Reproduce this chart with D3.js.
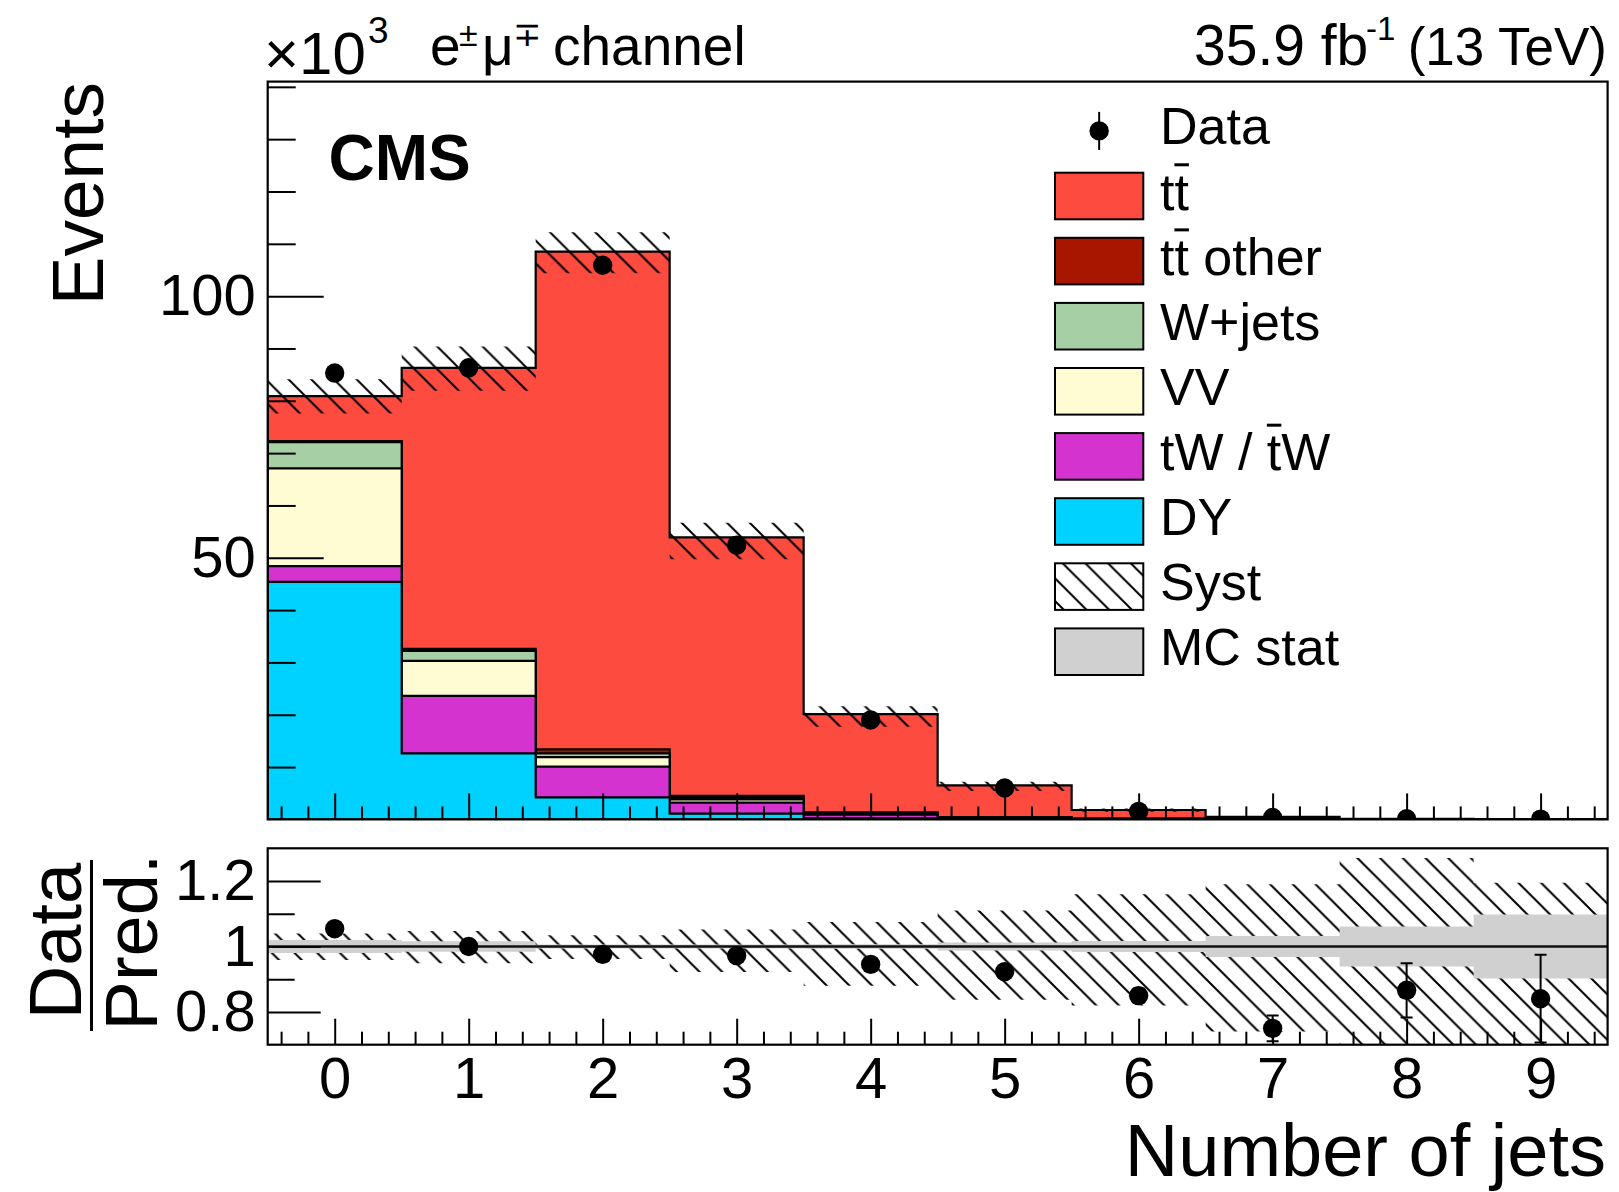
<!DOCTYPE html>
<html>
<head>
<meta charset="utf-8">
<script src="https://cdn.jsdelivr.net/npm/d3@7"></script>
<style>
  body { margin: 0; background: #fff; }
  text { font-family: "Liberation Sans", Arial, Helvetica, sans-serif; fill: #000; }
</style>
</head>
<body>
<svg id="chart" width="1619" height="1192"></svg>
<script>
// ---------------- DATA (events in units of 10^3) ----------------
const categories   = [0, 1, 2, 3, 4, 5, 6, 7, 8, 9];
const xTickLabels  = ["0", "1", "2", "3", "4", "5", "6", "7", "8", "9"];
const dyVals       = [45.4, 12.6, 4.2, 1.1, 0.20, 0.06, 0.020, 0.005, 0.001, 0.0005];
const twVals       = [3.0, 11.0, 5.9, 2.1, 0.70, 0.22, 0.060, 0.015, 0.004, 0.0010];
const vvVals       = [18.7, 6.7, 1.8, 0.6, 0.15, 0.04, 0.010, 0.004, 0.001, 0.0005];
const wjetsVals    = [5.0, 1.9, 0.7, 0.25, 0.05, 0.02, 0.010, 0.002, 0.001, 0.0005];
const ttOtherVals  = [0.2, 0.4, 0.8, 0.45, 0.25, 0.10, 0.040, 0.014, 0.004, 0.0015];
const ttVals       = [8.6, 53.7, 95.1, 49.4, 18.75, 6.06, 1.66, 0.44, 0.116, 0.043];
const dataVals     = [85.3, 86.3, 105.9, 52.4, 19.0, 6.0, 1.53, 0.36, 0.110, 0.0395];
const dataErr      = [0.29, 0.29, 0.33, 0.23, 0.14, 0.078, 0.039, 0.019, 0.0105, 0.0063];
// relative uncertainties
const systUp       = [0.040, 0.047, 0.034, 0.052, 0.075, 0.11, 0.16, 0.19, 0.27, 0.195];
const systDown     = [0.041, 0.051, 0.038, 0.078, 0.12, 0.163, 0.18, 0.26, 0.32, 0.32];
const mcStat       = [0.020, 0.016, 0.006, 0.006, 0.007, 0.012, 0.017, 0.032, 0.061, 0.098];
// axis ticks
const mainYTicks   = [50, 100];
const mainYLabels  = ["50", "100"];
const mainYMinor   = [10, 20, 30, 40, 60, 70, 80, 90, 110, 120, 130, 140];
const ratioYTicks  = [0.8, 1, 1.2];
const ratioYLabels = ["0.8", "1", "1.2"];
const ratioYMinor  = [0.9, 1.1];
// legend (t\u0304 = t-bar)
const legendLabels = ["Data", "tt\u0304", "tt\u0304 other", "W+jets", "VV", "tW / t\u0304W", "DY", "Syst", "MC stat"];
const seriesKeys   = ["DY", "tW", "VV", "Wjets", "ttOther", "tt"];
const seriesColors = { DY: "#00d2ff", tW: "#d433d0", VV: "#fffcd4", Wjets: "#a6cfa6", ttOther: "#a81600", tt: "#fd4b40" };
const legendKeys   = ["data", "tt", "ttOther", "Wjets", "VV", "tW", "DY", "syst", "mcstat"];

// ---------------- LAYOUT ----------------
const L = 267.7, R = 1607.6;
const mainTop = 81.6, mainBot = 819.4;
const ratTop = 848.3, ratBot = 1044.7;
const FONT = "\"Liberation Sans\", Arial, Helvetica, sans-serif";

const svg = d3.select("#chart");
const x  = d3.scaleLinear().domain([-0.5, 9.5]).range([L, R]);
const y  = d3.scaleLinear().domain([0, 141]).range([mainBot, mainTop]);
const yr = d3.scaleLinear().domain([0.7, 1.3]).range([ratBot, ratTop]);

const defs = svg.append("defs");
const hs = 22.7;
const pat = defs.append("pattern").attr("id", "hatch")
  .attr("patternUnits", "userSpaceOnUse").attr("width", hs).attr("height", hs);
pat.append("path")
  .attr("d", `M0,0L${hs},${hs}M-2,${hs - 2}L2,${hs + 2}M${hs - 2},-2L${hs + 2},2`)
  .attr("stroke", "#000").attr("stroke-width", 2).attr("fill", "none");
defs.append("clipPath").attr("id", "clipMain").append("rect")
  .attr("x", L).attr("y", mainTop).attr("width", R - L).attr("height", mainBot - mainTop);
defs.append("clipPath").attr("id", "clipRat").append("rect")
  .attr("x", L).attr("y", ratTop).attr("width", R - L).attr("height", ratBot - ratTop);

// table for stack
const table = categories.map((c, i) => ({
  jets: c, DY: dyVals[i], tW: twVals[i], VV: vvVals[i], Wjets: wjetsVals[i], ttOther: ttOtherVals[i], tt: ttVals[i]
}));
const stacked = d3.stack().keys(seriesKeys)(table);
const totals = categories.map((c, i) => stacked[stacked.length - 1][i][1]);

function stepPoints(vals) {
  const pts = vals.map((v, i) => ({ x: categories[i] - 0.5, v }));
  pts.push({ x: categories[categories.length - 1] + 0.5, v: vals[vals.length - 1] });
  return pts;
}

// ---------------- MAIN PAD ----------------
const gMain = svg.append("g").attr("clip-path", "url(#clipMain)");
const stepArea = d3.area().curve(d3.curveStepAfter)
  .x(d => x(d.x)).y0(y(0)).y1(d => y(d.v));

// ROOT style: cumulative histograms, largest first
stacked.slice().reverse().forEach(s => {
  gMain.append("path")
    .attr("d", stepArea(stepPoints(s.map(d => d[1]))))
    .attr("fill", seriesColors[s.key])
    .attr("stroke", "#000").attr("stroke-width", 2.2).attr("stroke-linejoin", "miter");
});

// syst band
const bandArea = d3.area().curve(d3.curveStepAfter)
  .x(d => x(d.x)).y0(d => d.lo).y1(d => d.hi);
function bandPts(loF, hiF) {
  const pts = categories.map((c, i) => ({ x: c - 0.5, lo: loF(i), hi: hiF(i) }));
  const n = categories.length - 1;
  pts.push({ x: categories[n] + 0.5, lo: loF(n), hi: hiF(n) });
  return pts;
}
gMain.append("path")
  .attr("d", bandArea(bandPts(i => y(totals[i] * (1 - systDown[i])), i => y(totals[i] * (1 + systUp[i])))))
  .attr("fill", "url(#hatch)").attr("stroke", "none");

// data
const gData = svg.append("g").attr("clip-path", "url(#clipMain)");
categories.forEach((c, i) => {
  gData.append("line").attr("x1", x(c)).attr("x2", x(c))
    .attr("y1", y(dataVals[i] - dataErr[i])).attr("y2", y(dataVals[i] + dataErr[i]))
    .attr("stroke", "#000").attr("stroke-width", 2);
  gData.append("circle").attr("cx", x(c)).attr("cy", y(dataVals[i])).attr("r", 9.7).attr("fill", "#000");
});

// axes main
function styleAxis(g, fs) {
  g.select(".domain").remove();
  g.selectAll(".tick line").attr("stroke", "#000").attr("stroke-width", 2);
  g.selectAll(".tick text").attr("font-size", fs).attr("font-family", FONT).attr("fill", "#000");
  g.attr("font-family", FONT);
}
const minorX = d3.range(-2, 48).map(k => k * 0.2).filter(v => Math.abs(v - Math.round(v)) > 1e-6);

svg.append("g").attr("transform", `translate(0,${mainBot})`)
  .call(d3.axisBottom(x).tickValues(categories).tickSize(-26).tickFormat(""))
  .call(g => styleAxis(g, 58));
svg.append("g").attr("transform", `translate(0,${mainBot})`)
  .call(d3.axisBottom(x).tickValues(minorX).tickSize(-13).tickFormat(""))
  .call(g => styleAxis(g, 58));
svg.append("g").attr("transform", `translate(${L},0)`)
  .call(d3.axisLeft(y).tickValues(mainYTicks).tickSize(-56).tickPadding(12).tickFormat((d, i) => mainYLabels[i]))
  .call(g => styleAxis(g, 58));
svg.append("g").attr("transform", `translate(${L},0)`)
  .call(d3.axisLeft(y).tickValues(mainYMinor).tickSize(-28).tickFormat(""))
  .call(g => styleAxis(g, 58));

svg.append("rect").attr("x", L).attr("y", mainTop).attr("width", R - L).attr("height", mainBot - mainTop)
  .attr("fill", "none").attr("stroke", "#000").attr("stroke-width", 2.2);

// ---------------- RATIO PAD ----------------
const gRat = svg.append("g").attr("clip-path", "url(#clipRat)");
gRat.append("path")
  .attr("d", bandArea(bandPts(i => yr(1 - systDown[i]), i => yr(1 + systUp[i]))))
  .attr("fill", "url(#hatch)").attr("stroke", "none");
gRat.append("path")
  .attr("d", bandArea(bandPts(i => yr(1 - mcStat[i]), i => yr(1 + mcStat[i]))))
  .attr("fill", "#d0d0d0").attr("stroke", "none");
gRat.append("line").attr("x1", L).attr("x2", R).attr("y1", yr(1)).attr("y2", yr(1))
  .attr("stroke", "#111").attr("stroke-width", 2.6);

const ratio = categories.map((c, i) => dataVals[i] / totals[i]);
const ratioErr = categories.map((c, i) => dataErr[i] / totals[i]);
categories.forEach((c, i) => {
  const y1 = yr(ratio[i] - ratioErr[i]), y2 = yr(ratio[i] + ratioErr[i]);
  gRat.append("line").attr("x1", x(c)).attr("x2", x(c)).attr("y1", y1).attr("y2", y2)
    .attr("stroke", "#000").attr("stroke-width", 2);
  [y1, y2].forEach(yy => gRat.append("line").attr("x1", x(c) - 6).attr("x2", x(c) + 6)
    .attr("y1", yy).attr("y2", yy).attr("stroke", "#000").attr("stroke-width", 2));
  gRat.append("circle").attr("cx", x(c)).attr("cy", yr(ratio[i])).attr("r", 9.7).attr("fill", "#000");
});

svg.append("g").attr("transform", `translate(0,${ratBot})`)
  .call(d3.axisBottom(x).tickValues(categories).tickSize(-26).tickPadding(12).tickFormat((d, i) => xTickLabels[i]))
  .call(g => styleAxis(g, 58));
svg.append("g").attr("transform", `translate(0,${ratBot})`)
  .call(d3.axisBottom(x).tickValues(minorX).tickSize(-13).tickFormat(""))
  .call(g => styleAxis(g, 58));
svg.append("g").attr("transform", `translate(${L},0)`)
  .call(d3.axisLeft(yr).tickValues(ratioYTicks).tickSize(-53).tickPadding(12).tickFormat((d, i) => ratioYLabels[i]))
  .call(g => styleAxis(g, 58));
svg.append("g").attr("transform", `translate(${L},0)`)
  .call(d3.axisLeft(yr).tickValues(ratioYMinor).tickSize(-27).tickFormat(""))
  .call(g => styleAxis(g, 58));

svg.append("rect").attr("x", L).attr("y", ratTop).attr("width", R - L).attr("height", ratBot - ratTop)
  .attr("fill", "none").attr("stroke", "#000").attr("stroke-width", 2.2);

// ---------------- TEXTS ----------------
svg.append("text").attr("transform", "translate(103,82) rotate(-90)")
  .attr("text-anchor", "end").attr("font-size", 73).text("Events");
svg.append("text").attr("x", 1606).attr("y", 1176).attr("text-anchor", "end")
  .attr("font-size", 74).text("Number of jets");
svg.append("text").attr("transform", "translate(81,941) rotate(-90)")
  .attr("text-anchor", "middle").attr("font-size", 74).text("Data");
svg.append("text").attr("transform", "translate(157,942) rotate(-90)")
  .attr("text-anchor", "middle").attr("font-size", 74).text("Pred.");
svg.append("line").attr("x1", 91.5).attr("x2", 91.5).attr("y1", 860).attr("y2", 1031)
  .attr("stroke", "#000").attr("stroke-width", 3);

svg.append("text").attr("x", 328.5).attr("y", 180).attr("font-size", 64)
  .attr("font-weight", "bold").text("CMS");

const t10 = svg.append("text").attr("x", 264).attr("y", 74).attr("font-size", 60);
t10.append("tspan").text("\u00d710");
t10.append("tspan").attr("x", 368).attr("y", 43).attr("font-size", 37).text("3");

const tch = svg.append("text").attr("y", 65).attr("font-size", 55);
tch.append("tspan").attr("x", 430).text("e");
tch.append("tspan").attr("x", 459).attr("y", 46).attr("font-size", 34).text("\u00b1");
tch.append("tspan").attr("x", 482).attr("y", 65).text("\u03bc");
tch.append("tspan").attr("x", 513).attr("y", 46).attr("font-size", 34).text("\u2213");
tch.append("tspan").attr("x", 553).attr("y", 65).text("channel");

const tl = svg.append("text").attr("y", 65).attr("font-size", 57);
tl.append("tspan").attr("x", 1194).text("35.9 fb");
tl.append("tspan").attr("x", 1366).attr("y", 40).attr("font-size", 33).text("-1");
svg.append("text").attr("x", 1607).attr("y", 65).attr("font-size", 53)
  .attr("text-anchor", "end").text("(13 TeV)");

// ---------------- LEGEND ----------------
const legX = 1055, legW = 88.3, legH = 46.6, legTextX = 1160, legFS = 52;
const row0 = 130.9, rowStep = 65.1;
const gLeg = svg.append("g");
function barredText(g, xx, yy, label, fs) {
  let plain = ""; const bars = [];
  Array.from(label).forEach(ch => { if (ch === "\u0304") bars.push(plain.length - 1); else plain += ch; });
  const t = g.append("text").attr("x", xx).attr("y", yy).attr("font-size", fs).text(plain);
  const n = t.node();
  bars.forEach(i => {
    const s = n.getStartPositionOfChar(i).x, e = n.getEndPositionOfChar(i).x;
    g.append("line").attr("x1", s).attr("x2", e).attr("y1", yy - 0.86 * fs).attr("y2", yy - 0.86 * fs)
      .attr("stroke", "#000").attr("stroke-width", 3);
  });
}
legendLabels.forEach((lab, i) => {
  const cy = row0 + i * rowStep;
  const key = legendKeys[i];
  if (key === "data") {
    const mx = legX + legW / 2;
    gLeg.append("line").attr("x1", mx).attr("x2", mx).attr("y1", cy - 19).attr("y2", cy + 19)
      .attr("stroke", "#000").attr("stroke-width", 2);
    gLeg.append("circle").attr("cx", mx).attr("cy", cy).attr("r", 9.7).attr("fill", "#000");
  } else {
    const fill = key === "syst" ? "url(#hatch)" : key === "mcstat" ? "#d0d0d0" : seriesColors[key];
    gLeg.append("rect").attr("x", legX).attr("y", cy - legH / 2).attr("width", legW).attr("height", legH)
      .attr("fill", fill).attr("stroke", "#000").attr("stroke-width", 2);
  }
  barredText(gLeg, legTextX, cy + 13.5, lab, legFS);
});
</script>
</body>
</html>
